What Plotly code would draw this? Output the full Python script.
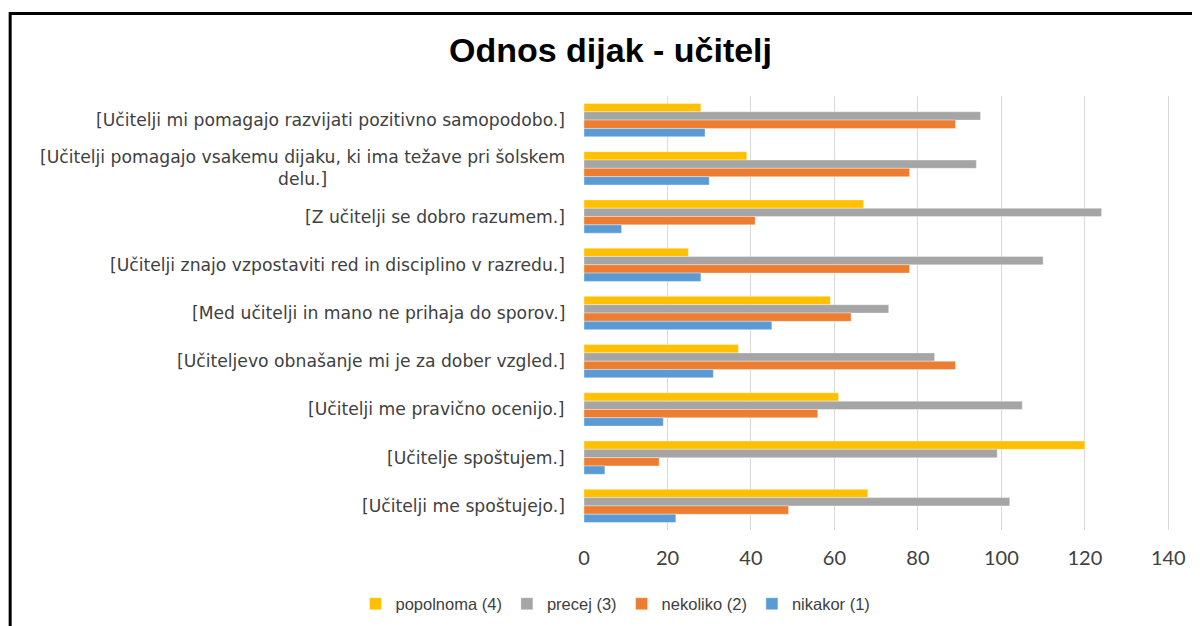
import plotly.graph_objects as go

categories = [
    "[Učitelji mi pomagajo razvijati pozitivno samopodobo.]",
    "[Učitelji pomagajo vsakemu dijaku, ki ima težave pri šolskem<br>delu.]",
    "[Z učitelji se dobro razumem.]",
    "[Učitelji znajo vzpostaviti red in disciplino v razredu.]",
    "[Med učitelji in mano ne prihaja do sporov.]",
    "[Učiteljevo obnašanje mi je za dober vzgled.]",
    "[Učitelji me pravično ocenijo.]",
    "[Učitelje spoštujem.]",
    "[Učitelji me spoštujejo.]",
]
popolnoma = [28, 39, 67, 25, 59, 37, 61, 120, 68]
precej = [95, 94, 124, 110, 73, 84, 105, 99, 102]
nekoliko = [89, 78, 41, 78, 64, 89, 56, 18, 49]
nikakor = [29, 30, 9, 28, 45, 31, 19, 5, 22]

series = [
    ("popolnoma (4)", popolnoma, "#FFC000"),
    ("precej (3)", precej, "#A5A5A5"),
    ("nekoliko (2)", nekoliko, "#ED7D31"),
    ("nikakor (1)", nikakor, "#5B9BD5"),
]
x_ticks = [0, 20, 40, 60, 80, 100, 120, 140]
x_max = 140.4

# page body has an 8px margin; work in screen pixels and shift
OFF = 8
W, H = 1200 - OFF, 626 - OFF
px_per_unit = (1168 - 583.5) / 140
px_left, px_top, px_bottom = 583.5, 96, 530
px_right = px_left + x_max * px_per_unit
L = px_left - OFF
R = 1200 - px_right
T = px_top - OFF
B = 626 - px_bottom
pw = W - L - R
ph = H - T - B


def px_to_paper_x(px):
    return (px - px_left) / pw


def px_to_paper_y(py):
    return (px_bottom - py) / ph


fig = go.Figure()
for name, vals, color in series:
    fig.add_trace(go.Bar(
        y=categories, x=vals, name=name, orientation="h",
        marker=dict(color=color, line=dict(color="rgba(255,255,255,0.6)", width=0.6)),
    ))

label_font = dict(family="DejaVu Sans, Liberation Sans, sans-serif", size=17.2, color="#404040")
legend_font = dict(family="Liberation Sans, Arial, sans-serif", size=16.5, color="#404040")

annotations = []
for c in categories:
    annotations.append(dict(
        x=0, xref="paper", y=c, yref="y", xshift=-17,
        xanchor="right", yanchor="middle", align="center",
        text=c, showarrow=False, font=label_font,
    ))

fig.add_shape(type="rect", xref="paper", yref="paper",
              x0=px_to_paper_x(9.5), x1=1.3, y0=-0.5, y1=px_to_paper_y(13.5),
              line=dict(color="black", width=3), fillcolor="rgba(0,0,0,0)", layer="above")

fig.update_layout(
    width=W, height=H,
    margin=dict(l=L, r=R, t=T, b=B, autoexpand=False),
    paper_bgcolor="white", plot_bgcolor="white",
    title=dict(text="<b>Odnos dijak - učitelj</b>", x=px_to_paper_x(610), xref="paper", xanchor="center",
               y=1 - (50 - OFF) / H, yanchor="middle",
               font=dict(family="Liberation Sans, Arial, sans-serif", size=34, color="black")),
    barmode="group", bargap=0.31, bargroupgap=0,
    showlegend=True,
    legend=dict(orientation="h", x=px_to_paper_x(615), xanchor="center", y=px_to_paper_y(604),
                yanchor="middle", font=legend_font, traceorder="normal"),
    annotations=annotations,
)
fig.update_xaxes(range=[0, x_max], tickvals=x_ticks, ticktext=[str(v) for v in x_ticks],
                 showgrid=True, gridcolor="#D9D9D9", gridwidth=1, zeroline=False,
                 showline=False, ticks="outside", ticklen=10, tickcolor="rgba(0,0,0,0)",
                 tickfont=dict(family="Lato, Open Sans, sans-serif", size=20, color="#404040"))
fig.update_yaxes(autorange="reversed", showticklabels=False, showgrid=False,
                 showline=False, zeroline=False, ticks="")

fig.write_html("out.html")
